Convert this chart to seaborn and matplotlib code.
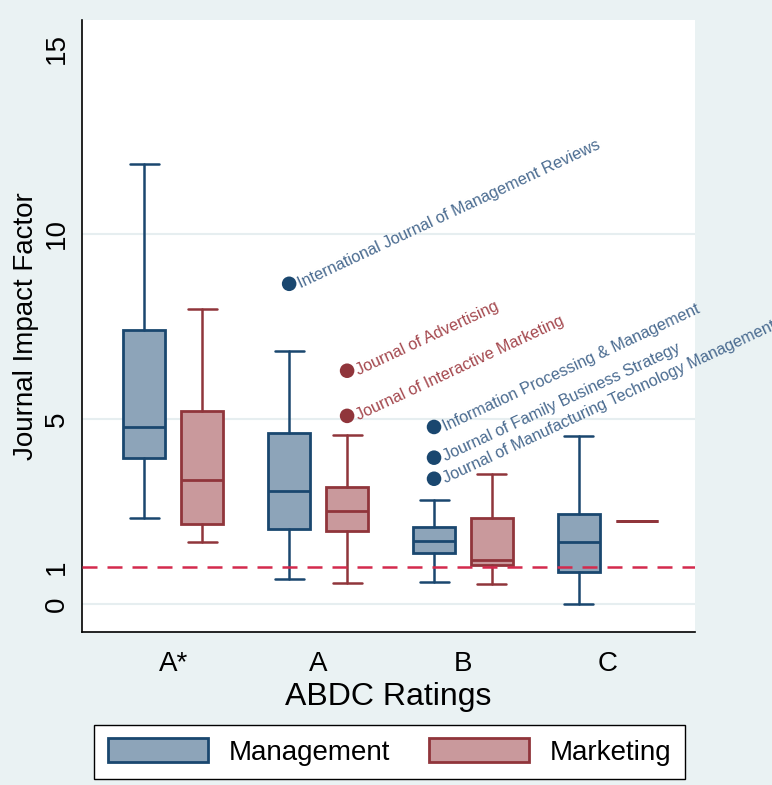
import pandas as pd
import seaborn as sns
import matplotlib.pyplot as plt
from matplotlib.patches import Patch


ratings = ['A*', 'A', 'B', 'C']
groups = ['Management', 'Marketing']

# box stats: lower whisker, q1, median, q3, upper whisker
mgmt_lo = [2.32, 0.68, 0.60, 0.00]
mgmt_q1 = [3.95, 2.03, 1.38, 0.86]
mgmt_med = [4.78, 3.05, 1.70, 1.68]
mgmt_q3 = [7.40, 4.62, 2.08, 2.43]
mgmt_hi = [11.89, 6.84, 2.81, 4.54]

mkt_lo = [1.68, 0.57, 0.54, 2.24]
mkt_q1 = [2.16, 1.97, 1.05, 2.24]
mkt_med = [3.35, 2.51, 1.19, 2.24]
mkt_q3 = [5.22, 3.16, 2.32, 2.24]
mkt_hi = [7.97, 4.57, 3.51, 2.24]

# labelled outliers
out_group = ['Management', 'Marketing', 'Marketing', 'Management', 'Management', 'Management']
out_rating = ['A', 'A', 'A', 'B', 'B', 'B']
out_value = [8.65, 6.30, 5.08, 4.78, 3.95, 3.38]
out_label = ['International Journal of Management Reviews',
             'Journal of Advertising',
             'Journal of Interactive Marketing',
             'Information Processing & Management',
             'Journal of Family Business Strategy',
             'Journal of Manufacturing Technology Management']

ref_line = 1

edge = {'Management': '#1a476f', 'Marketing': '#90353b'}
fill = {'Management': '#8da4b9', 'Marketing': '#c9999c'}
txtc = {'Management': '#4a6b90', 'Marketing': '#a4484e'}
offset = {'Management': -0.2, 'Marketing': 0.2}


def make_stats(lo, q1, med, q3, hi):
	return [dict(whislo=lo[i], q1=q1[i], med=med[i], q3=q3[i], whishi=hi[i], fliers=[])
			for i in range(len(lo))]


def myplot():
	sns.set_style('white')
	plt.rcParams['font.family'] = ['Liberation Sans', 'DejaVu Sans']
	plt.rcParams['text.color'] = 'black'
	plt.rcParams['axes.labelcolor'] = 'black'
	plt.rcParams['xtick.color'] = 'black'
	plt.rcParams['ytick.color'] = 'black'

	fig = plt.figure(figsize=(7.72, 7.85), dpi=100, facecolor='#eaf2f3')
	ax = fig.add_axes([0.1062, 0.195, 0.7938, 0.7795])
	ax.set_facecolor('white')

	stats = {'Management': make_stats(mgmt_lo, mgmt_q1, mgmt_med, mgmt_q3, mgmt_hi),
			 'Marketing': make_stats(mkt_lo, mkt_q1, mkt_med, mkt_q3, mkt_hi)}

	for yv in [0, 5, 10]:
		ax.axhline(yv, color='#e6eef0', lw=1.5, zorder=0)

	for g in groups:
		pos = [i + offset[g] for i in range(len(ratings))]
		ax.bxp(stats[g], positions=pos, widths=0.29, capwidths=0.2,
			   patch_artist=True, showfliers=False, manage_ticks=False,
			   boxprops=dict(facecolor=fill[g], edgecolor=edge[g], lw=2),
			   medianprops=dict(color=edge[g], lw=2),
			   whiskerprops=dict(color=edge[g], lw=1.8),
			   capprops=dict(color=edge[g], lw=1.8), zorder=3)

	ax.axhline(ref_line, color='#d42a4d', lw=1.8, ls=(0, (6, 4)), zorder=4)

	outl = pd.DataFrame({'group': out_group, 'rating': out_rating,
						 'value': out_value, 'label': out_label})
	outl['x'] = [ratings.index(r) + offset[g] for r, g in zip(outl['rating'], outl['group'])]
	sns.scatterplot(data=outl, x='x', y='value', hue='group', palette=edge,
					s=110, edgecolor='none', legend=False, ax=ax, zorder=5)
	for _, row in outl.iterrows():
		ax.annotate(row['label'], (row['x'], row['value']), xytext=(7, 0),
					textcoords='offset points', ha='left', va='center',
					rotation=25, rotation_mode='anchor', fontsize=11.7,
					color=txtc[row['group']], annotation_clip=False)

	ax.set_xlim(-0.63, 3.6)
	ax.set_ylim(-0.76, 15.78)
	ax.set_xticks(range(len(ratings)))
	ax.set_xticklabels(ratings, fontsize=20)
	ax.set_yticks([0, 1, 5, 10, 15])
	ax.set_yticklabels(['0', '1', '5', '10', '15'], fontsize=20, rotation=90, va='center')
	ax.tick_params(axis='x', length=0, pad=14)
	ax.tick_params(axis='y', length=7.5, width=1.2, color='#555555', pad=1.5)
	ax.set_xlabel('ABDC Ratings', fontsize=23, labelpad=3)
	ax.set_ylabel('Journal Impact Factor', fontsize=20, labelpad=3)

	for s in ['top', 'right']:
		ax.spines[s].set_visible(False)
	for s in ['left', 'bottom']:
		ax.spines[s].set_color('black')
		ax.spines[s].set_linewidth(1.2)

	handles = [Patch(facecolor=fill[g], edgecolor=edge[g], lw=2, label=g) for g in groups]
	fig.legend(handles=handles, loc='center', bbox_to_anchor=(0.5045, 0.042), ncol=2,
			   fontsize=20, frameon=True, fancybox=False, edgecolor='black',
			   framealpha=1, handlelength=3.6, handleheight=0.9, handletextpad=0.75,
			   columnspacing=1.4, borderpad=0.5)

	plt.savefig('out.png', dpi=100, facecolor=fig.get_facecolor())


myplot()
